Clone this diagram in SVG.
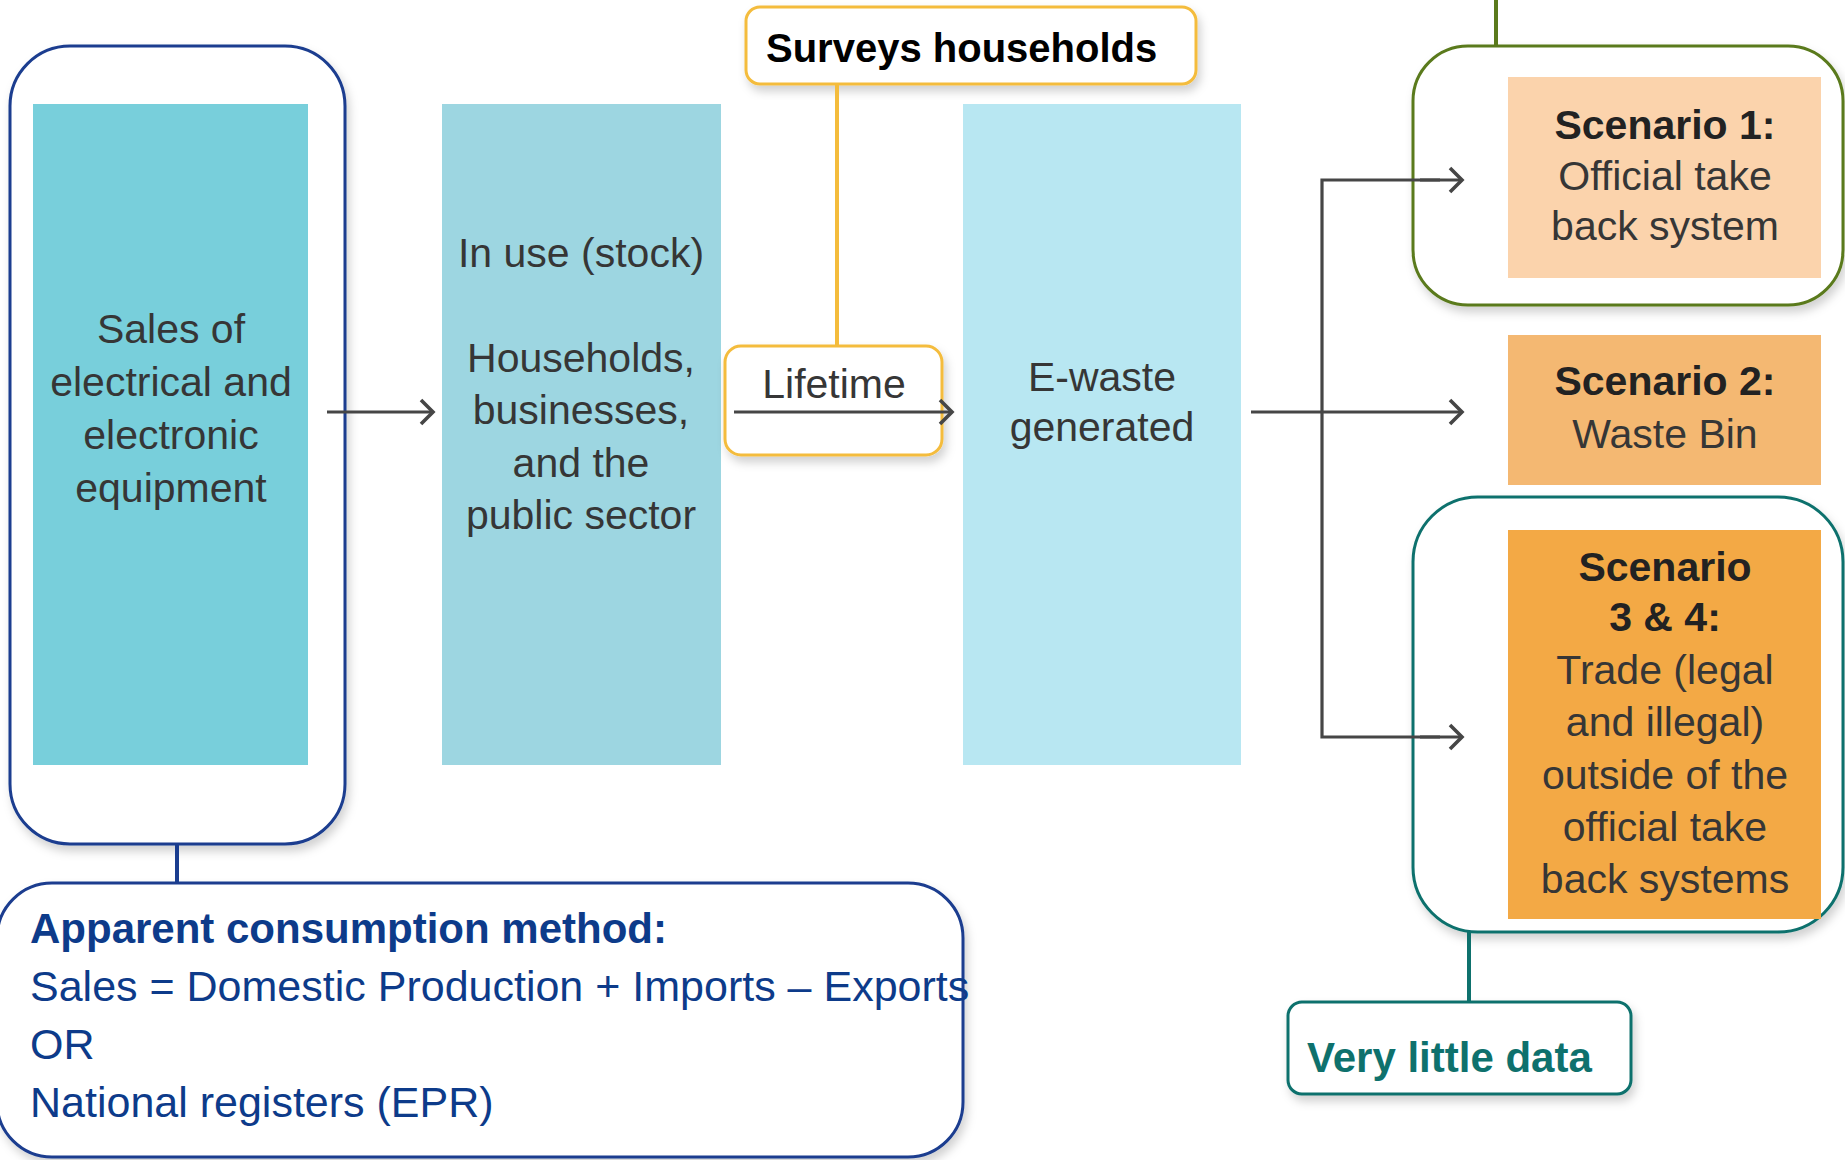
<svg xmlns="http://www.w3.org/2000/svg" width="1845" height="1160" viewBox="0 0 1845 1160">
<defs>
<style>
.body{font-family:"Liberation Sans",Arial,sans-serif;font-size:41px;fill:#363636;text-anchor:middle}
.bold{font-weight:bold;fill:#222}
.note{font-family:"Liberation Sans",Arial,sans-serif;font-weight:bold}
.blue{fill:#0D3B8A}
.conn{fill:none;stroke:#464646;stroke-width:3.2}
.outline{fill:#fff;stroke-width:3;filter:url(#sh)}
</style>
<filter id="sh" x="-10%" y="-10%" width="125%" height="130%">
<feDropShadow dx="3" dy="6" stdDeviation="5" flood-color="#000" flood-opacity="0.18"/>
</filter>
<marker id="arr" markerWidth="18" markerHeight="28" refX="14" refY="14" orient="auto" markerUnits="userSpaceOnUse">
<path d="M2,2 L14,14 L2,26" fill="none" stroke="#464646" stroke-width="3.6"/>
</marker>
</defs>
<rect width="1845" height="1160" fill="#fff"/>

<g id="top-partial-box">
<rect class="outline" x="1332" y="-120" width="450" height="118" rx="40" stroke="#5A7A1C"/>
</g>

<g id="sales-outline">
<rect class="outline" x="10" y="46" width="335" height="798" rx="60" stroke="#1A3D8F"/>
</g>
<g id="apparent-consumption">
<rect class="outline" x="-3" y="883" width="966" height="274" rx="55" stroke="#1A3D8F"/>
<text class="note blue" x="30" y="943" font-size="42">Apparent consumption method:</text>
<text class="blue" x="30" y="1001" font-family="Liberation Sans,Arial,sans-serif" font-size="43">Sales = Domestic Production + Imports – Exports</text>
<text class="blue" x="30" y="1059" font-family="Liberation Sans,Arial,sans-serif" font-size="43">OR</text>
<text class="blue" x="30" y="1117" font-family="Liberation Sans,Arial,sans-serif" font-size="43">National registers (EPR)</text>
</g>

<g id="scenario1-outline">
<rect class="outline" x="1413" y="46" width="430" height="259" rx="55" stroke="#5A7A1C"/>
</g>
<g id="scenario34-outline">
<rect class="outline" x="1413" y="497" width="430" height="435" rx="65" stroke="#0E716D"/>
</g>

<g id="sales">
<rect x="33" y="104" width="275" height="661" fill="#78CFDB"/>
<text class="body" x="171" y="343">Sales of</text>
<text class="body" x="171" y="396">electrical and</text>
<text class="body" x="171" y="449">electronic</text>
<text class="body" x="171" y="502">equipment</text>
</g>

<g id="in-use">
<rect x="442" y="104" width="279" height="661" fill="#9DD6E1"/>
<text class="body" x="581" y="267">In use (stock)</text>
<text class="body" x="581" y="372">Households,</text>
<text class="body" x="581" y="424">businesses,</text>
<text class="body" x="581" y="477">and the</text>
<text class="body" x="581" y="529">public sector</text>
</g>

<g id="ewaste">
<rect x="963" y="104" width="278" height="661" fill="#B8E7F2"/>
<text class="body" x="1102" y="391">E-waste</text>
<text class="body" x="1102" y="441">generated</text>
</g>

<g id="surveys">
<rect class="outline" x="746" y="7" width="450" height="77" rx="14" stroke="#F4BC3C"/>
<text class="note" x="766" y="62" font-size="40" fill="#000">Surveys households</text>
</g>

<g id="lifetime">
<rect class="outline" x="725" y="346" width="217" height="109" rx="16" stroke="#F4BC3C"/>
<text class="body" x="834" y="398">Lifetime</text>
</g>

<g id="scenario1">
<rect x="1508" y="77" width="313" height="201" fill="#FBD3AC"/>
<text class="body bold" x="1665" y="139">Scenario 1:</text>
<text class="body" x="1665" y="190">Official take</text>
<text class="body" x="1665" y="240">back system</text>
</g>

<g id="scenario2">
<rect x="1508" y="335" width="313" height="150" fill="#F4B872"/>
<text class="body bold" x="1665" y="395">Scenario 2:</text>
<text class="body" x="1665" y="448">Waste Bin</text>
</g>

<g id="scenario34">
<rect x="1508" y="530" width="313" height="389" fill="#F3A945"/>
<text class="body bold" x="1665" y="581">Scenario</text>
<text class="body bold" x="1665" y="631">3 &amp; 4:</text>
<text class="body" x="1665" y="684">Trade (legal</text>
<text class="body" x="1665" y="736">and illegal)</text>
<text class="body" x="1665" y="789">outside of the</text>
<text class="body" x="1665" y="841">official take</text>
<text class="body" x="1665" y="893">back systems</text>
</g>

<g id="very-little-data">
<rect class="outline" x="1288" y="1002" width="343" height="92" rx="14" stroke="#0E716D"/>
<text class="note" x="1307" y="1072" font-size="42" fill="#0E716D">Very little data</text>
</g>

<g id="connectors">
<line class="conn" x1="327" y1="412" x2="433" y2="412" marker-end="url(#arr)"/>
<line class="conn" x1="734" y1="412" x2="952" y2="412" marker-end="url(#arr)"/>
<line class="conn" x1="1251" y1="412" x2="1462" y2="412" marker-end="url(#arr)"/>
<polyline class="conn" points="1440,180 1322,180 1322,737 1440,737"/>
<line class="conn" x1="1420" y1="180" x2="1462" y2="180" marker-end="url(#arr)"/>
<line class="conn" x1="1420" y1="737" x2="1462" y2="737" marker-end="url(#arr)"/>
<line x1="837" y1="84" x2="837" y2="346" stroke="#F4BC3C" stroke-width="4"/>
<line x1="1496" y1="-2" x2="1496" y2="46" stroke="#5A7A1C" stroke-width="4"/>
<line x1="1469" y1="932" x2="1469" y2="1002" stroke="#0E716D" stroke-width="4"/>
<line x1="177" y1="844" x2="177" y2="883" stroke="#1A3D8F" stroke-width="4"/>
</g>
</svg>
